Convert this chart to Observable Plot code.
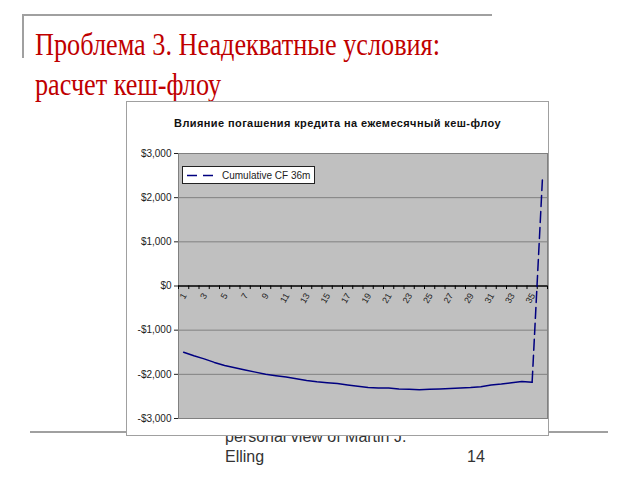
<!DOCTYPE html>
<html>
<head>
<meta charset="utf-8">
<script src="https://cdn.jsdelivr.net/npm/d3@7"></script>
<script src="https://cdn.jsdelivr.net/npm/@observablehq/plot@0.6"></script>
<style>
  html, body { margin: 0; padding: 0; background: #fff; }
  #page { position: relative; width: 640px; height: 480px; overflow: hidden; background: #fff; }
  .abs { position: absolute; }
  #title { left: 35px; top: 24px; font-family: "Liberation Serif", "DejaVu Serif", serif; font-size: 32px; line-height: 40px; color: #c00000; white-space: nowrap; transform: scaleX(0.82); transform-origin: left top; }
  #footer { left: 225px; top: 427px; width: 220px; font-family: "Liberation Sans", Arial, sans-serif; font-size: 16px; line-height: 20px; color: #333; z-index: 1; }
  #pagenum { left: 467px; top: 447px; font-family: "Liberation Sans", Arial, sans-serif; font-size: 16px; line-height: 20px; color: #333; z-index: 1; }
  #chartbox { left: 126px; top: 101px; width: 421px; height: 333px; border: 1px solid #a0a0a0; background: #fff; z-index: 2; }
  #ctitle { left: 0; top: 15px; width: 421px; text-align: center; font-family: "Liberation Sans", Arial, sans-serif; font-weight: bold; font-size: 11px; letter-spacing: 0.4px; color: #111; }
  #legend { left: 55px; top: 64px; width: 131px; height: 16px; background: #fff; border: 1px solid #222; }
</style>
</head>
<body>
<div id="page">
  <div class="abs" style="left:22px; top:14px; width:470px; height:2px; background:#a0a0a0;"></div>
  <div class="abs" style="left:22px; top:14px; width:2px; height:44px; background:#a0a0a0;"></div>
  <div class="abs" style="left:30px; top:431px; width:578px; height:2px; background:#a0a0a0;"></div>
  <div id="title" class="abs">Проблема 3. Неадекватные условия:<br>расчет кеш-флоу</div>
  <div id="footer" class="abs">personal view of Martin J.<br>Elling</div>
  <div id="pagenum" class="abs">14</div>
  <div id="chartbox" class="abs">
    <div id="ctitle" class="abs">Влияние погашения кредита на ежемесячный кеш-флоу</div>
    <div id="chart" class="abs" style="left:0; top:0;"></div>
    <div id="legend" class="abs">
      <svg width="131" height="16" style="position:absolute;left:0;top:0">
        <line x1="4" y1="8.5" x2="30" y2="8.5" stroke="#000080" stroke-width="1.5" stroke-dasharray="10,6"></line>
        <text x="39" y="12" font-family="Liberation Sans, Arial, sans-serif" font-size="10" fill="#222">Cumulative CF 36m</text>
      </svg>
    </div>
  </div>
</div>
<script>
const months = [1,2,3,4,5,6,7,8,9,10,11,12,13,14,15,16,17,18,19,20,21,22,23,24,25,26,27,28,29,30,31,32,33,34,35,36];
const cumulativeCF = [-1500,-1580,-1650,-1730,-1800,-1850,-1900,-1950,-2000,-2030,-2060,-2100,-2140,-2170,-2190,-2210,-2240,-2270,-2300,-2310,-2310,-2330,-2340,-2350,-2340,-2330,-2320,-2310,-2300,-2280,-2240,-2220,-2190,-2160,-2180,2400];
const xTickLabels = [1,3,5,7,9,11,13,15,17,19,21,23,25,27,29,31,33,35];
const yTicks = [-3000,-2000,-1000,0,1000,2000,3000];

const data = months.map((m, i) => ({month: m, cf: cumulativeCF[i]}));
const boundaries = months.map(m => m - 0.5).concat([months[months.length - 1] + 0.5]);
const fmt = d => (d < 0 ? "-" : "") + "$" + d3.format(",")(Math.abs(d));

const chart = Plot.plot({
  width: 421,
  height: 333,
  marginLeft: 51,
  marginRight: 1,
  marginTop: 51,
  marginBottom: 17,
  x: {domain: [0.5, 36.5], axis: null},
  y: {domain: [-3000, 3000], axis: null},
  style: {background: "transparent", fontFamily: "Liberation Sans, Arial, sans-serif", color: "#222", overflow: "visible"},
  marks: [
    Plot.frame({fill: "#c0c0c0", stroke: "#808080"}),
    Plot.gridY(yTicks.filter(d => d !== 0 && Math.abs(d) !== 3000), {stroke: "#808080", strokeOpacity: 1}),
    Plot.ruleY([0], {stroke: "#000", strokeWidth: 1.5}),
    Plot.ruleX(boundaries, {y1: 0, y2: -80, stroke: "#000", strokeWidth: 1}),
    Plot.text(xTickLabels, {x: d => d, y: 0, text: d => String(d), rotate: -60, textAnchor: "end", dy: 8, dx: 1, fontSize: 9, fill: "#222"}),
    Plot.line(data, {x: "month", y: "cf", filter: d => d.month <= 35, stroke: "#000080", strokeWidth: 1.5}),
    Plot.line(data, {x: "month", y: "cf", filter: d => d.month >= 35, stroke: "#000080", strokeWidth: 1.5, strokeDasharray: "11,5"}),
    Plot.axisY(yTicks, {label: null, tickFormat: fmt, tickSize: 4, tickPadding: 3, fontSize: 10, stroke: "#222"})
  ]
});
document.getElementById("chart").appendChild(chart);
</script>
</body>
</html>
